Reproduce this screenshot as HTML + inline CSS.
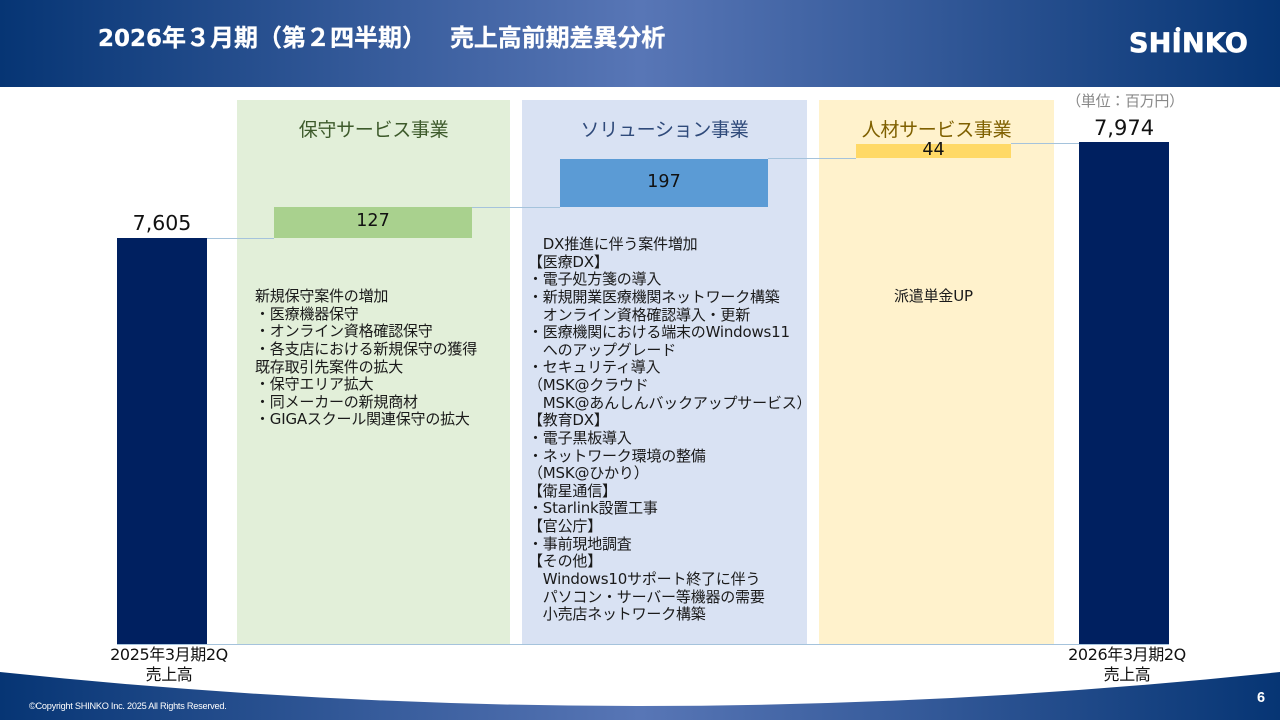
<!DOCTYPE html>
<html lang="ja"><head><meta charset="utf-8"><style>
html,body{margin:0;padding:0;background:#fff}
#p{position:relative;width:1280px;height:720px;overflow:hidden;background:#fff;font-family:"DejaVu Sans","Noto Sans CJK JP",sans-serif;color:#111}
#p div{position:absolute}
.t{white-space:pre;font-size:15px;line-height:17.62px;color:#1a1a1a;letter-spacing:-.2px}
.c{text-align:center;white-space:pre}
.h{top:117px;font-size:19px;line-height:26px;letter-spacing:-.3px}
.b{top:645px;width:140px;font-size:16px;line-height:20px;letter-spacing:-.4px}
.n{font-size:17.5px;line-height:24px}
</style></head><body><div id="p">
<svg width="1280" height="720" style="position:absolute;left:0;top:0">
<defs><linearGradient id="g" x1="0" x2="1" y1="0" y2="0"><stop offset="0" stop-color="#063574"/><stop offset=".5" stop-color="#5876b6"/><stop offset="1" stop-color="#063574"/></linearGradient></defs>
<rect width="1280" height="87" fill="url(#g)"/>
<path d="M0 672Q640 740 1280 672V720H0Z" fill="url(#g)"/>
<rect x="237" y="100" width="273" height="544" fill="#e2efd9"/>
<rect x="522" y="100" width="285" height="544" fill="#d9e2f3"/>
<rect x="819" y="100" width="235" height="544" fill="#fff2cc"/>
<rect x="117" y="238" width="90" height="406" fill="#002060"/>
<rect x="1079" y="142" width="90" height="502" fill="#002060"/>
<rect x="274" y="207" width="198" height="31" fill="#a9d18e"/>
<rect x="560" y="159" width="208" height="48" fill="#5b9bd5"/>
<rect x="856" y="144" width="155" height="14" fill="#ffd966"/>
<g stroke="#a5c3dc" stroke-width="1" fill="none"><path d="M207 238.500H274M472 207.500H560M768 158.500H856M1011 143.500H1079M117 644.500H1169"/></g>
<circle cx="1178" cy="29.500" r="2.500" fill="#fff"/>
</svg>
<div class="c" style="left:98px;top:20px;font-weight:bold;font-size:24px;line-height:36px;color:#fff;-webkit-text-stroke:.25px #fff"><span style="font-size:23px">2026</span>年３月期（第２四半期）</div>
<div class="c" style="left:450px;top:20px;font-weight:bold;font-size:24px;line-height:36px;color:#fff;letter-spacing:-.1px;-webkit-text-stroke:.25px #fff">売上高前期差異分析</div>
<div style="left:1129px;top:26px;font:bold 27px/36px 'DejaVu Sans',sans-serif;color:#fff;white-space:pre;letter-spacing:.3px;-webkit-text-stroke:.7px #fff">SHINKO</div>
<div class="c h" style="left:237px;width:273px;color:#3d5a2b">保守サービス事業</div>
<div class="c h" style="left:522px;width:285px;color:#2f4a7a">ソリューション事業</div>
<div class="c h" style="left:819px;width:235px;color:#7f6000">人材サービス事業</div>
<div class="c" style="left:117px;width:90px;top:210px;font-size:20.5px;line-height:26px;color:#111">7,605</div>
<div class="c" style="left:1079px;width:90px;top:115px;font-size:21px;line-height:26px;color:#111">7,974</div>
<div class="c n" style="left:274px;width:198px;top:209px">127</div>
<div class="c n" style="left:560px;width:208px;top:170px">197</div>
<div class="c n" style="left:856px;width:155px;top:138px">44</div>
<div class="c" style="left:1060px;width:130px;top:92px;font-size:15px;line-height:18px;color:#888;letter-spacing:-.3px">（単位：百万円）</div>
<div class="c b" style="left:99px">2025年3月期2Q
売上高</div>
<div class="c b" style="left:1057px">2026年3月期2Q
売上高</div>
<div class="t" style="left:255px;top:288px">新規保守案件の増加
・医療機器保守
・オンライン資格確認保守
・各支店における新規保守の獲得
既存取引先案件の拡大
・保守エリア拡大
・同メーカーの新規商材
・GIGAスクール関連保守の拡大</div>
<div class="t" style="left:528px;top:236px">　DX推進に伴う案件増加
【医療DX】
・電子処方箋の導入
・新規開業医療機関ネットワーク構築
　オンライン資格確認導入・更新
・医療機関における端末のWindows11
　へのアップグレード
・セキュリティ導入
（MSK@クラウド
　MSK@あんしんバックアップサービス）
【教育DX】
・電子黒板導入
・ネットワーク環境の整備
（MSK@ひかり）
【衛星通信】
・Starlink設置工事
【官公庁】
・事前現地調査
【その他】
　Windows10サポート終了に伴う
　パソコン・サーバー等機器の需要
　小売店ネットワーク構築</div>
<div class="t" style="left:894px;top:288px">派遣単金UP</div>
<div style="left:29px;top:700px;font:9.200px/12px 'Liberation Sans',sans-serif;color:#fff;letter-spacing:-.25px;white-space:pre">©Copyright SHINKO Inc. 2025 All Rights Reserved.</div>
<div style="left:1257px;top:689px;font:bold 14.500px/18px 'Liberation Sans',sans-serif;color:#fff">6</div>
</div></body></html>
